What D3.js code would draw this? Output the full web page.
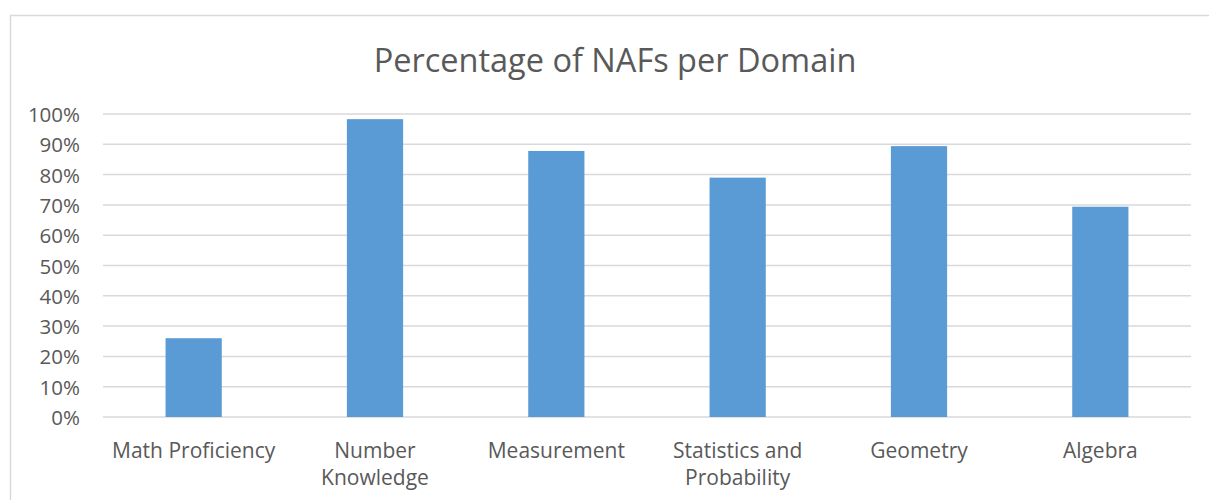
<!DOCTYPE html>
<html>
<head>
<meta charset="utf-8">
<script src="https://cdn.jsdelivr.net/npm/d3@7"></script>
<style>
  html, body { margin: 0; padding: 0; background: #fff; }
  svg { display: block; }
  text { font-family: "Open Sans", Lato, sans-serif; fill: #595959; }
</style>
</head>
<body>
<svg id="chart" width="1209" height="500"></svg>
<script>
const title = "Percentage of NAFs per Domain";
const categories = [
  ["Math Proficiency"],
  ["Number", "Knowledge"],
  ["Measurement"],
  ["Statistics and", "Probability"],
  ["Geometry"],
  ["Algebra"]
];
const values = [0.26, 0.983, 0.878, 0.79, 0.894, 0.694];
const yTicks = [0, 0.1, 0.2, 0.3, 0.4, 0.5, 0.6, 0.7, 0.8, 0.9, 1.0];

const svg = d3.select("#chart");
const W = 1209, H = 500;
const plot = { left: 103, right: 1191, top: 114, bottom: 417 };

// chart border
svg.append("rect")
  .attr("x", 10.5).attr("y", 15.5)
  .attr("width", W).attr("height", H)
  .attr("fill", "#fff").attr("stroke", "#d9d9d9").attr("stroke-width", 1.5);

const x = d3.scaleBand()
  .domain(categories.map((d, i) => i))
  .range([plot.left, plot.right])
  .paddingInner(0.69).paddingOuter(0.345);

const y = d3.scaleLinear().domain([0, 1]).range([plot.bottom, plot.top]);

// gridlines
svg.append("g").selectAll("line").data(yTicks).join("line")
  .attr("x1", plot.left).attr("x2", plot.right)
  .attr("y1", d => y(d)).attr("y2", d => y(d))
  .attr("stroke", "#d9d9d9").attr("stroke-width", 1.5);

// y axis labels
const yAxis = d3.axisLeft(y).tickValues(yTicks).tickFormat(d3.format(".0%")).tickSize(0).tickPadding(0);
const yg = svg.append("g").attr("transform", `translate(80,1)`).call(yAxis);
yg.select(".domain").remove();
yg.selectAll("text").attr("font-size", 20.5).attr("fill", "#595959")
  .style("font-family", "'Open Sans', Lato, sans-serif");

// bars
svg.append("g").selectAll("rect").data(values).join("rect")
  .attr("x", (d, i) => x(i))
  .attr("width", x.bandwidth())
  .attr("y", d => y(d))
  .attr("height", d => y(0) - y(d))
  .attr("fill", "#5b9bd5");

// x labels
const xl = svg.append("g").selectAll("text").data(categories).join("text")
  .attr("text-anchor", "middle")
  .attr("font-size", 21)
  .attr("x", (d, i) => x(i) + x.bandwidth() / 2)
  .attr("y", 458);
xl.selectAll("tspan").data(d => d).join("tspan")
  .attr("x", function() { return d3.select(this.parentNode).attr("x"); })
  .attr("dy", (d, j) => j === 0 ? 0 : 27)
  .text(d => d);

// title
svg.append("text")
  .attr("x", 615).attr("y", 72)
  .attr("text-anchor", "middle")
  .attr("font-size", 32.5)
  .text(title);
</script>
</body>
</html>
